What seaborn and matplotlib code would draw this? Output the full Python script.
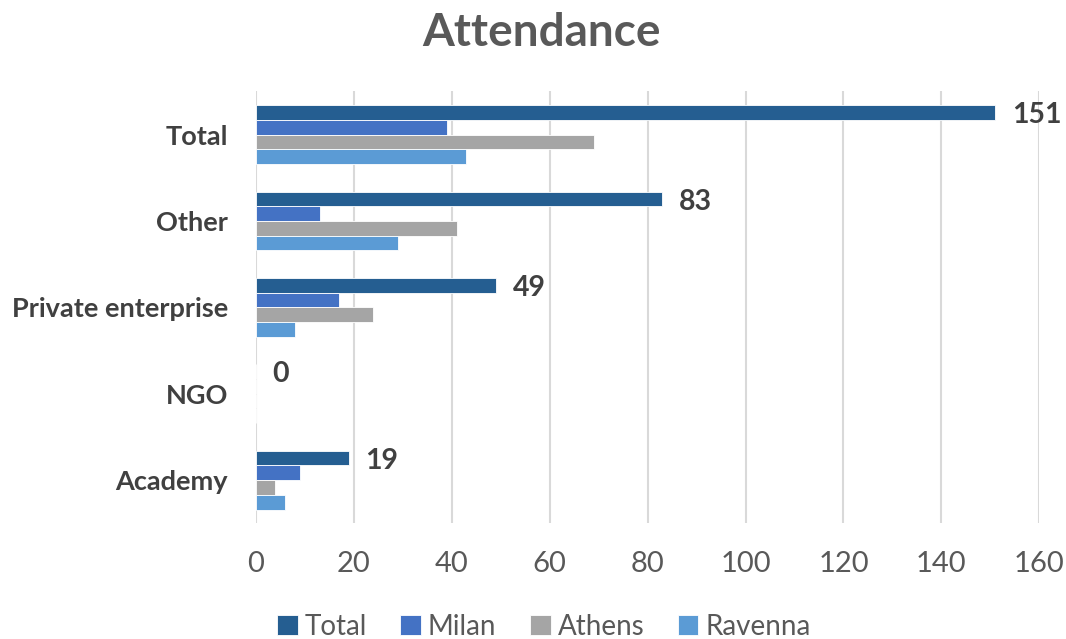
import pandas as pd
import matplotlib.pyplot as plt
import seaborn as sns

categories = ['Total', 'Other', 'Private enterprise', 'NGO', 'Academy']
series = ['Total', 'Milan', 'Athens', 'Ravenna']
total = [151, 83, 49, 0, 19]
milan = [39, 13, 17, 0, 9]
athens = [69, 41, 24, 0, 4]
ravenna = [43, 29, 8, 0, 6]
colors = ['#255E91', '#4472C4', '#A5A5A5', '#5B9BD5']
x_ticks = [0, 20, 40, 60, 80, 100, 120, 140, 160]


def main():
    rows = []
    for name, vals in zip(series, [total, milan, athens, ravenna]):
        for cat, v in zip(categories, vals):
            rows.append({'Category': cat, 'Series': name, 'Value': v})
    df = pd.DataFrame(rows)

    sns.set_style('white')
    plt.rcParams['font.family'] = ['Lato', 'DejaVu Sans']

    fig = plt.figure(figsize=(10.66, 6.39), dpi=100)
    ax = fig.add_axes([0.240, 0.181, 0.735, 0.676])

    sns.barplot(data=df, y='Category', x='Value', hue='Series',
                order=categories, hue_order=series, palette=colors,
                saturation=1, orient='h', width=0.68, edgecolor='white',
                linewidth=0.6, ax=ax, legend=True)

    # data labels on the Total series only
    total_bars = ax.containers[0]
    for bar, v in zip(total_bars, total):
        ax.annotate(str(v), (bar.get_width(), bar.get_y() + bar.get_height() / 2),
                    xytext=(12, -2), textcoords='offset points',
                    ha='left', va='center', fontsize=20.5, fontweight='bold',
                    color='#404040')

    ax.set_xlim(0, 160)
    ax.set_xticks(x_ticks)
    ax.set_xlabel('')
    ax.set_ylabel('')
    ax.grid(axis='x', color='#D9D9D9', linewidth=1.5)
    ax.set_axisbelow(True)
    for s in ax.spines.values():
        s.set_visible(False)
    ax.tick_params(axis='x', length=0, pad=20, labelsize=21, labelcolor='#595959')
    ax.tick_params(axis='y', length=0, pad=20, labelsize=19.5, labelcolor='#404040')
    for lbl in ax.get_yticklabels():
        lbl.set_fontweight('bold')

    handles, labels = ax.get_legend_handles_labels()
    ax.legend_.remove()
    fig.legend(handles, labels, loc='lower center', ncol=4, frameon=False,
               bbox_to_anchor=(0.51, -0.04), fontsize=20, handlelength=0.75,
               handleheight=0.75, handletextpad=0.25, columnspacing=1.2,
               labelcolor='#595959')

    fig.suptitle('Attendance', x=0.508, y=0.982, fontsize=33, fontweight='bold',
                 color='#595959')

    fig.savefig('out.png', dpi=100)


if __name__ == '__main__':
    main()
